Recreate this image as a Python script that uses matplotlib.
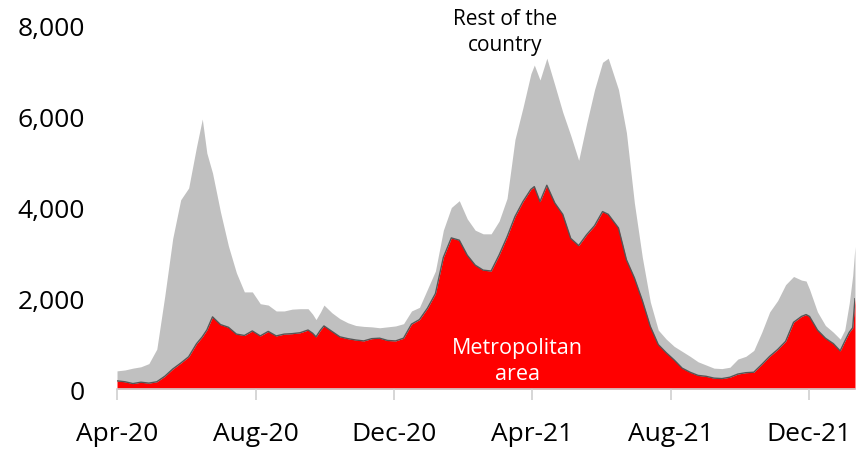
import pandas as pd
import matplotlib.pyplot as plt
import matplotlib.dates as mdates
from matplotlib.ticker import FuncFormatter

plt.rcParams['font.family'] = ['Open Sans', 'DejaVu Sans']

# Daily cases (total = metropolitan area + rest of the country)
dates = [
    '2020-04-01', '2020-04-08', '2020-04-15', '2020-04-22', '2020-04-29', '2020-05-06',
    '2020-05-13', '2020-05-20', '2020-05-27', '2020-06-03', '2020-06-10', '2020-06-15',
    '2020-06-19', '2020-06-24', '2020-07-01', '2020-07-08', '2020-07-15', '2020-07-22',
    '2020-07-29', '2020-08-05', '2020-08-12', '2020-08-19', '2020-08-26', '2020-09-02',
    '2020-09-09', '2020-09-16', '2020-09-20', '2020-09-23', '2020-09-27', '2020-09-30',
    '2020-10-07', '2020-10-14', '2020-10-21', '2020-10-28', '2020-11-04', '2020-11-11',
    '2020-11-18', '2020-11-25', '2020-12-02', '2020-12-09', '2020-12-16', '2020-12-23',
    '2020-12-30', '2021-01-06', '2021-01-13', '2021-01-20', '2021-01-27', '2021-02-03',
    '2021-02-10', '2021-02-17', '2021-02-24', '2021-03-03', '2021-03-10', '2021-03-17',
    '2021-03-24', '2021-03-31', '2021-04-03', '2021-04-08', '2021-04-14', '2021-04-21',
    '2021-04-28', '2021-05-05', '2021-05-12', '2021-05-19', '2021-05-26', '2021-06-02',
    '2021-06-07', '2021-06-16', '2021-06-23', '2021-06-30', '2021-07-07', '2021-07-14',
    '2021-07-21', '2021-07-28', '2021-08-04', '2021-08-11', '2021-08-18', '2021-08-25',
    '2021-09-01', '2021-09-08', '2021-09-15', '2021-09-22', '2021-09-29', '2021-10-06',
    '2021-10-13', '2021-10-20', '2021-10-27', '2021-11-03', '2021-11-10', '2021-11-17',
    '2021-11-24', '2021-11-28', '2021-12-01', '2021-12-08', '2021-12-15', '2021-12-22',
    '2021-12-28', '2022-01-01', '2022-01-05', '2022-01-08', '2022-01-10',
]

total = [
    400, 420, 460, 490, 560, 880,
    2050, 3320, 4170, 4430, 5350, 5950,
    5200, 4760, 3900, 3150, 2560, 2140,
    2140, 1880, 1850, 1720, 1720, 1760,
    1770, 1770, 1650, 1530, 1700, 1850,
    1680, 1550, 1460, 1400, 1380, 1370,
    1350, 1370, 1390, 1440, 1720, 1800,
    2200, 2600, 3500, 4000, 4150, 3750,
    3500, 3420, 3420, 3700, 4200, 5500,
    6200, 6950, 7140, 6810, 7290, 6700,
    6100, 5590, 5040, 5850, 6600, 7200,
    7290, 6600, 5650, 4100, 2900, 1920,
    1300, 1100, 940, 830, 720, 600,
    530, 460, 450, 480, 660, 720,
    850, 1250, 1700, 1950, 2300, 2480,
    2400, 2380, 2200, 1700, 1400, 1250,
    1100, 1300, 1900, 2500, 3140,
]

metro = [
    180, 160, 120, 150, 130, 160,
    280, 440, 570, 710, 1000, 1150,
    1300, 1590, 1420, 1360, 1210, 1180,
    1280, 1170, 1270, 1170, 1210, 1220,
    1240, 1300, 1230, 1150, 1300, 1390,
    1270, 1150, 1110, 1080, 1060, 1110,
    1120, 1070, 1060, 1120, 1430, 1530,
    1780, 2100, 2900, 3330, 3280, 2950,
    2730, 2620, 2600, 2950, 3350, 3800,
    4130, 4400, 4460, 4130, 4490, 4100,
    3850, 3320, 3160, 3400, 3600, 3910,
    3850, 3550, 2850, 2450, 1950, 1380,
    980, 800, 640, 460, 370, 300,
    280, 240, 230, 260, 330, 360,
    370, 540, 720, 870, 1050, 1470,
    1600, 1640, 1600, 1300, 1120, 1000,
    840, 1050, 1250, 1350, 1990,
]

yticks = [0, 2000, 4000, 6000, 8000]

df = pd.DataFrame({'date': pd.to_datetime(dates), 'total': total, 'metro': metro})

fig = plt.figure(figsize=(8.56, 4.56), dpi=100)
ax = fig.add_axes([0.1367, 0.1447, 0.8621, 0.7961])

# Stacked areas: metropolitan area at the bottom, rest of the country above
ax.fill_between(df['date'], df['metro'], df['total'], color='#c0c0c0', linewidth=0)
ax.fill_between(df['date'], 0, df['metro'], color='#ff0000', linewidth=0)
ax.plot(df['date'], df['metro'], color='#555555', linewidth=1)

ax.set_xlim(df['date'].iloc[0], df['date'].iloc[-1])
ax.set_ylim(0, 8000)

# Axis styling
for side in ['top', 'right', 'left']:
    ax.spines[side].set_visible(False)
ax.spines['bottom'].set_color('#d0d0d0')
ax.spines['bottom'].set_linewidth(1.2)

ax.set_yticks(yticks)
ax.yaxis.set_major_formatter(FuncFormatter(lambda v, p: f'{int(v):,}'))
ax.tick_params(axis='y', length=0, pad=23, labelsize=19)

ax.xaxis.set_major_locator(mdates.MonthLocator(bymonth=[4, 8, 12]))
ax.xaxis.set_major_formatter(mdates.DateFormatter('%b-%y'))
ax.tick_params(axis='x', length=8, width=1.2, color='#d0d0d0', pad=15, labelsize=19)

# In-chart labels
ax.text(pd.Timestamp('2021-03-08'), 7880, 'Rest of the\ncountry', ha='center', va='center',
        fontsize=15, color='black', linespacing=1.35, clip_on=False)
ax.text(pd.Timestamp('2021-03-19'), 630, 'Metropolitan\narea', ha='center', va='center',
        fontsize=15.5, color='white', linespacing=1.35)

fig.savefig('out.png', dpi=100)
